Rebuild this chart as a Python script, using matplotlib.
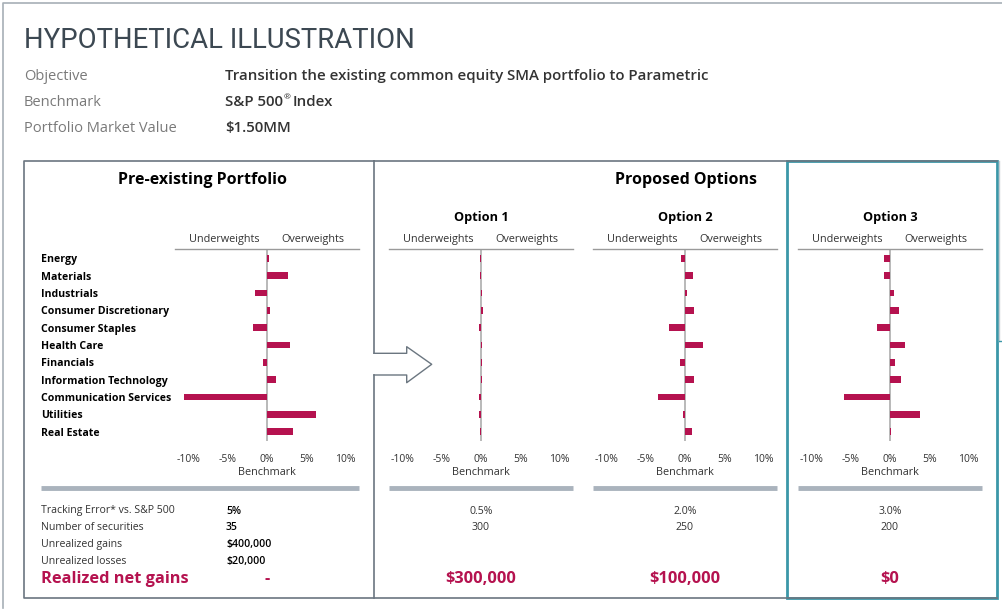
import matplotlib
matplotlib.use("Agg")
import matplotlib.pyplot as plt
from matplotlib.patches import Rectangle

plt.rcParams['font.family'] = ['Open Sans', 'DejaVu Sans']

# --- data ---
sectors = ["Energy", "Materials", "Industrials", "Consumer Discretionary",
           "Consumer Staples", "Health Care", "Financials",
           "Information Technology", "Communication Services", "Utilities",
           "Real Estate"]
pre_weights = [0.25, 2.7, -1.5, 0.4, -1.8, 2.9, -0.5, 1.2, -10.6, 6.2, 3.3]
opt1_weights = [-0.15, -0.15, 0.15, 0.3, -0.25, 0.15, 0.15, 0.15, -0.25, -0.25, -0.15]
opt2_weights = [-0.45, 1.0, 0.2, 1.1, -2.0, 2.3, -0.65, 1.2, -3.4, -0.25, 0.9]
opt3_weights = [-0.75, -0.75, 0.45, 1.2, -1.6, 1.9, 0.6, 1.35, -5.8, 3.8, 0.15]
panel_titles = ["Option 1", "Option 2", "Option 3"]
ticks = [-10, -5, 0, 5, 10]
tick_labels = ["-10%", "-5%", "0%", "5%", "10%"]

header_labels = ["Objective", "Benchmark", "Portfolio Market Value"]
header_values = ["Transition the existing common equity SMA portfolio to Parametric",
                 "S&P 500", "$1.50MM"]

stat_labels = ["Tracking Error* vs. S&P 500", "Number of securities",
               "Unrealized gains", "Unrealized losses"]
pre_stats = ["5%", "35", "$400,000", "$20,000"]
option_te = ["0.5%", "2.0%", "3.0%"]
option_secs = ["300", "250", "200"]
realized = ["-", "$300,000", "$100,000", "$0"]

W, H = 1003, 614
CRIMSON = "#b5124f"
BOXGRAY = "#6b7680"
TEAL = "#3b97a8"

fig = plt.figure(figsize=(W / 100, H / 100), dpi=100)
bg = fig.add_axes([0, 0, 1, 1])
bg.set_xlim(0, W)
bg.set_ylim(H, 0)
bg.axis("off")
renderer = fig.canvas.get_renderer()


def px_right(t):
    return bg.transData.inverted().transform((t.get_window_extent(renderer).x1, 0))[0]


# outer frame
bg.plot([3, 3, W], [608, 3, 3], color="#a7afb6", lw=1.2)

# header (fit title width to ~392 px)
title = bg.text(24, 40, "HYPOTHETICAL ILLUSTRATION", fontsize=23, color="#3c4852",
                va="center", ha="left", family=["Roboto", "DejaVu Sans"])
tw = title.get_window_extent(renderer).width
title.set_fontsize(23 * 392 / tw)

for i, (lab, val) in enumerate(zip(header_labels, header_values)):
    y = 76 + i * 26
    bg.text(24, y, lab, fontsize=10.5, color="#7a7a7a", va="center")
    t = bg.text(225, y, val.replace("$", r"\$"), fontsize=10.8, color="#333333",
                va="center", fontweight="semibold")
    if i == 1:
        # registered mark + "Index" after the benchmark name
        x_end = px_right(t)
        bg.text(x_end + 0.5, y - 4, "\u00ae", fontsize=6, color="#333333",
                va="center")
        bg.text(x_end + 10, y, "Index", fontsize=10.8, color="#333333",
                va="center", fontweight="semibold")

# boxes
bg.plot([374, 24, 24, 997], [161, 161, 598, 598], color=BOXGRAY, lw=1.2)
bg.plot([374, 997], [161, 161], color=BOXGRAY, lw=1.2)
bg.plot([374, 374], [161, 353.3], color=BOXGRAY, lw=1.2)
bg.plot([374, 374], [375, 598], color=BOXGRAY, lw=1.2)
# arrow
bg.plot([374, 406.7, 406.7, 431.7, 406.7, 406.7, 374],
        [353.3, 353.3, 346.7, 364.3, 382.7, 375, 375], color=BOXGRAY, lw=1.0)
bg.add_patch(Rectangle((787, 161), 210, 437, fill=False, edgecolor=TEAL, lw=2))
bg.plot([999.5, 999.5], [161, 341], color="#c7cdd2", lw=1)
bg.plot([999.5, W], [341, 341], color=TEAL, lw=1)

# panel headings
bg.text(203, 180, "Pre-existing Portfolio", fontsize=11.5, fontweight="bold",
        color="black", ha="center", va="center")
bg.text(686, 180, "Proposed Options", fontsize=11.5, fontweight="bold",
        color="black", ha="center", va="center")

centers = [267, 481, 685, 890]
all_weights = [pre_weights, opt1_weights, opt2_weights, opt3_weights]
half = 92
lim = 11.72
for k, (cx, w) in enumerate(zip(centers, all_weights)):
    x0, x1 = cx - half, cx + half
    ax = fig.add_axes([x0 / W, 1 - 441 / H, (x1 - x0) / W, (441 - 249) / H])
    ax.set_facecolor("none")
    ax.axvline(0, color="#b3b3b3", lw=1.3, zorder=1)
    ax.barh(range(len(sectors)), w, height=0.38, color=CRIMSON, zorder=2)
    ax.set_xlim(-lim, lim)
    ax.set_ylim(10.536, -0.536)
    for s in ["left", "right", "bottom"]:
        ax.spines[s].set_visible(False)
    ax.spines["top"].set_color("#9a9a9a")
    ax.spines["top"].set_linewidth(1)
    ax.set_xticks(ticks)
    ax.set_xticklabels(tick_labels, fontsize=7.5, color="#333333")
    ax.tick_params(axis="x", length=0, pad=9)
    ax.set_xlabel("Benchmark", fontsize=7.8, color="#333333", labelpad=2)
    if k == 0:
        ax.set_yticks(range(len(sectors)))
        ax.set_yticklabels(sectors, fontsize=7.6, fontweight="bold", color="black",
                           ha="left")
        ax.tick_params(axis="y", length=0, pad=(x0 - 41) * 0.72)
    else:
        ax.set_yticks([])
        bg.text(cx, 218, panel_titles[k - 1], fontsize=9.2, fontweight="bold",
                color="black", ha="center", va="center")
    ax.text(0.265, 1.02, "Underweights", transform=ax.transAxes, fontsize=7.8,
            color="#333333", ha="center", va="bottom")
    ax.text(0.75, 1.02, "Overweights", transform=ax.transAxes, fontsize=7.8,
            color="#333333", ha="center", va="bottom")
    # grey separator bar
    bg.plot([x0 if k else 41, x1], [488, 488], color="#aab3bd", lw=3.5,
            solid_capstyle="butt")

# statistics
for i, (lab, val) in enumerate(zip(stat_labels, pre_stats)):
    y = 511 + i * 16.8
    bg.text(41, y, lab, fontsize=7.6, color="#333333", va="center")
    bg.text(226, y, val.replace("$", r"\$"), fontsize=7.6, color="black",
            va="center", fontweight="semibold")
for k in range(3):
    cx = centers[k + 1]
    bg.text(cx, 511, option_te[k], fontsize=7.6, color="#333333",
            ha="center", va="center")
    bg.text(cx, 527.8, option_secs[k], fontsize=7.6, color="#333333",
            ha="center", va="center")

bg.text(41, 579, "Realized net gains", fontsize=11.8, fontweight="bold",
        color=CRIMSON, va="center")
for cx, val in zip(centers, realized):
    bg.text(cx, 579, val.replace("$", r"\$"), fontsize=11.8, fontweight="bold",
            color=CRIMSON, ha="center", va="center")

fig.savefig("out.png", dpi=100)
